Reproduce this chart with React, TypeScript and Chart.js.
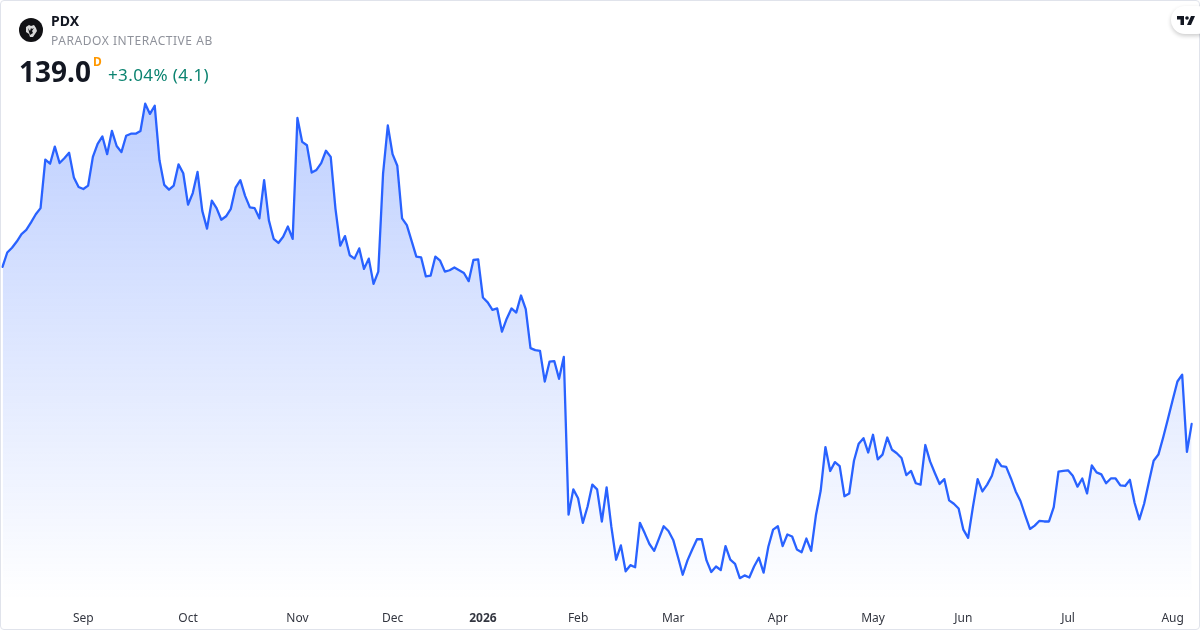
import React, { useEffect, useRef } from "react";
import { Chart, registerables } from "chart.js";

Chart.register(...registerables);

const closes: number[] = [
  162.0, 164.1, 164.8, 165.7, 166.8, 167.4, 168.5, 169.7, 170.6, 177.7,
  177.1, 179.6, 177.2, 177.9, 178.7, 175.1, 173.7, 173.4, 173.9, 178.1,
  180.0, 181.1, 178.5, 181.9, 179.7, 178.8, 181.2, 181.5, 181.5, 181.9,
  185.9, 184.4, 185.6, 177.6, 174.0, 173.3, 173.9, 177.0, 175.7, 171.1,
  172.8, 175.9, 170.2, 167.6, 171.7, 170.6, 168.9, 169.4, 170.5, 173.6,
  174.7, 172.4, 170.7, 170.6, 169.1, 174.7, 168.8, 166.1, 165.5, 166.4,
  167.9, 166.1, 183.8, 180.3, 179.8, 175.8, 176.2, 177.2, 179.0, 178.1,
  170.5, 165.1, 166.5, 163.7, 163.2, 164.7, 161.7, 163.2, 159.5, 161.3,
  175.6, 182.7, 178.5, 176.8, 169.1, 168.1, 165.8, 163.5, 163.4, 160.6,
  160.7, 163.5, 162.9, 161.3, 161.5, 161.9, 161.5, 161.1, 159.9, 163.0,
  163.1, 157.5, 156.8, 155.7, 155.9, 152.5, 154.4, 155.9, 155.3, 157.8,
  155.8, 150.1, 149.8, 149.7, 145.2, 148.1, 148.2, 145.6, 148.8, 125.7,
  129.4, 128.1, 124.5, 126.9, 130.1, 129.4, 124.7, 129.7, 123.9, 119.1,
  121.2, 117.4, 118.3, 118.0, 124.5, 123.0, 121.4, 120.4, 122.2, 124.0,
  123.3, 122.0, 119.5, 116.9, 119.0, 120.6, 122.1, 122.1, 119.0, 117.3,
  118.1, 117.6, 121.1, 119.1, 118.5, 116.4, 116.8, 116.5, 118.1, 119.4,
  117.2, 121.0, 123.5, 124.0, 121.1, 122.8, 122.5, 120.6, 120.2, 122.2,
  120.4, 125.6, 129.2, 135.6, 132.1, 133.4, 132.8, 128.4, 128.8, 133.6,
  136.1, 136.9, 134.8, 137.4, 133.8, 134.5, 137.0, 135.2, 134.7, 134.0,
  131.5, 132.1, 130.3, 130.1, 135.9, 133.5, 131.8, 130.2, 130.9, 127.8,
  127.3, 126.6, 123.5, 122.3, 126.8, 130.9, 129.1, 130.1, 131.4, 133.8,
  132.8, 132.7, 131.0, 129.1, 127.7, 125.6, 123.6, 124.1, 124.8, 124.7,
  124.7, 126.8, 132.0, 132.1, 132.2, 131.4, 129.8, 131.0, 128.8, 132.9,
  131.9, 131.6, 130.3, 131.0, 131.0, 130.0, 129.9, 130.8, 127.4, 125.0,
  127.3, 130.5, 133.6, 134.5, 137.0, 139.7, 142.5, 145.2, 146.2, 134.9,
  139.0,
];

const tickLabels = ["Sep", "Oct", "Nov", "Dec", "2026", "Feb", "Mar", "Apr", "May", "Jun", "Jul", "Aug"];
const tickSessions = [17, 39, 62, 82, 101, 121, 141, 163, 183, 202, 224, 246];

const categories: string[] = closes.map((_, i) => {
  const k = tickSessions.indexOf(i);
  return k >= 0 ? tickLabels[k] : "";
});

const FONT = '"Noto Sans", sans-serif';

export default function App() {
  const ref = useRef<HTMLCanvasElement>(null);

  useEffect(() => {
    document.body.style.margin = "0";
    const chart = new Chart(ref.current!, {
      type: "line",
      data: {
        labels: categories,
        datasets: [
          {
            data: closes,
            borderColor: "#2962ff",
            borderWidth: 2.3,
            borderJoinStyle: "round",
            borderCapStyle: "round",
            pointRadius: 0,
            tension: 0,
            fill: "origin",
            backgroundColor: (ctx: any) => {
              const area = ctx.chart.chartArea;
              if (!area) return "rgba(41,98,255,0.28)";
              const g = ctx.chart.ctx.createLinearGradient(0, 102, 0, area.bottom);
              g.addColorStop(0, "rgba(41,98,255,0.3)");
              g.addColorStop(1, "rgba(41,98,255,0)");
              return g;
            },
          },
        ],
      },
      options: {
        responsive: false,
        animation: false,
        devicePixelRatio: 1,
        layout: { padding: { left: 2.5, right: 8.3, top: 90, bottom: 0 } },
        plugins: { legend: { display: false }, tooltip: { enabled: false }, title: { display: false } },
        scales: {
          x: {
            type: "category",
            grid: { display: false, tickLength: 11 },
            border: { display: false },
            afterFit: (s: any) => {
              s.height = 30;
            },
            ticks: {
              autoSkip: false,
              maxRotation: 0,
              minRotation: 0,
              padding: 0,
              color: "#333640",
              font: (ctx: any) => ({
                family: FONT,
                size: 12,
                weight: ctx.tick && ctx.tick.label === "2026" ? "bold" : "normal",
              }),
            },
          },
          y: {
            display: false,
            min: 113.2,
            max: 187.9,
          },
        },
      },
    } as any);
    return () => chart.destroy();
  }, []);

  return (
    <div style={{ position: "absolute", left: 0, top: 0, width: 1200, height: 630, background: "#fff", overflow: "hidden", fontFamily: FONT }}>
      <canvas ref={ref} width={1200} height={630} style={{ position: "absolute", left: 0, top: 0, display: "block" }} />
      <div style={{ position: "absolute", inset: 0, border: "1px solid #e0e3eb", borderRadius: 4, boxSizing: "border-box", pointerEvents: "none" }} />
      <svg width="24" height="24" viewBox="0 0 24 24" style={{ position: "absolute", left: 19, top: 18 }}>
        <circle cx="12" cy="12" r="12" fill="#111114" />
        <path d="M7 9l3-2 2 1 3-1 2 3 1 3-2 3-2 3h-3l-1-3-3-2z" fill="#d8d8d8" />
        <path d="M9 10l2 3 1-3 1 1 2-1-2 3 1 2-3 2-1-3z" fill="#111114" />
      </svg>
      <div style={{ position: "absolute", left: 51, top: 12, fontSize: 14, fontWeight: 700, color: "#131722", lineHeight: "18px" }}>PDX</div>
      <div style={{ position: "absolute", left: 51, top: 32, fontSize: 12, color: "#8f929b", lineHeight: "18px", letterSpacing: 0.55, whiteSpace: "nowrap" }}>PARADOX INTERACTIVE AB</div>
      <div style={{ position: "absolute", left: 19, top: 52, fontSize: 28, fontWeight: 700, color: "#131722", lineHeight: "38px" }}>139.0</div>
      <div style={{ position: "absolute", left: 93, top: 54, fontSize: 12, fontWeight: 700, color: "#ff9800", lineHeight: "16px" }}>D</div>
      <div style={{ position: "absolute", left: 108, top: 63, fontSize: 17, letterSpacing: 0.4, color: "#0b8370", lineHeight: "24px", whiteSpace: "nowrap" }}>+3.04% (4.1)</div>
      <div style={{ position: "absolute", left: 1171, top: 6, width: 40, height: 28, borderRadius: 14, background: "#fff", boxShadow: "0 2px 4px rgba(0,0,0,0.2)" }} />
      <svg width="18" height="9" viewBox="0 0 36 18" style={{ position: "absolute", left: 1177, top: 16 }}>
        <path d="M0 0h14v18H7V7H0z" fill="#131722" />
        <circle cx="20" cy="4" r="3.6" fill="#131722" />
        <path d="M28 0h8l-8 18h-8z" fill="#131722" />
      </svg>
    </div>
  );
}
